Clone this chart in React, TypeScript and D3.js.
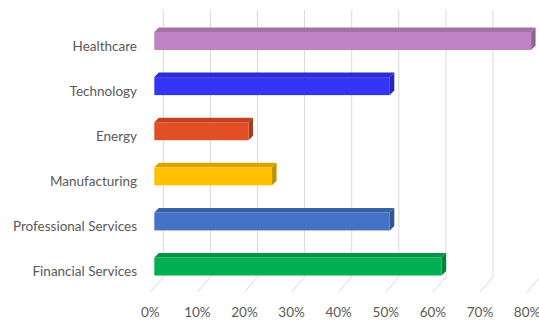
import React from "react";
import * as d3 from "d3";

const categories = [
  "Healthcare",
  "Technology",
  "Energy",
  "Manufacturing",
  "Professional Services",
  "Financial Services",
];
const values = [80, 50, 20, 25, 50, 61];
const frontColors = ["#BF84C4", "#3434F4", "#E24E26", "#FFC000", "#4472C4", "#00B050"];
const ticks = [0, 10, 20, 30, 40, 50, 60, 70, 80];

const W = 539;
const H = 322;

export default function App() {
  const xBack = d3.scaleLinear().domain([0, 80]).range([163.3, 540.1]);
  const y = d3.scalePoint<string>().domain(categories).range([41, 266.5]);
  const floorDx = -13;
  const floorDy = 15;
  const gridTop = 10;
  const gridBottom = 277;
  const barOffset = -9; // front face relative to back plane
  const depthX = 4.5;
  const depthY = -4.5;
  const barH = 18;
  const font = "Lato, 'Open Sans', sans-serif";

  return (
    <svg width={W} height={H} style={{ position: "absolute", left: 0, top: 0, background: "#fff" }}>
      {ticks.map((t) => {
        const gx = xBack(t);
        return (
          <g key={t}>
            <path
              d={`M${gx},${gridTop}L${gx},${gridBottom}L${gx + floorDx},${gridBottom + floorDy}`}
              fill="none"
              stroke="#D9D9D9"
              strokeWidth={1}
            />
            <text
              x={gx + floorDx}
              y={317}
              textAnchor="middle"
              fontFamily={font}
              fontSize={13.5}
              fill="#595959"
            >
              {t}%
            </text>
          </g>
        );
      })}
      {categories.map((c, i) => {
        const cy = y(c)!;
        const x0 = xBack(0) + barOffset;
        const x1 = xBack(values[i]) + barOffset;
        const top = cy - barH / 2;
        const bot = cy + barH / 2;
        const base = d3.color(frontColors[i])!;
        const topCol = base.darker(0.45).formatHex();
        const sideCol = base.darker(0.8).formatHex();
        return (
          <g key={c}>
            <path
              d={`M${x0},${top}L${x0 + depthX},${top + depthY}L${x1 + depthX},${top + depthY}L${x1},${top}Z`}
              fill={topCol}
            />
            <path
              d={`M${x1},${top}L${x1 + depthX},${top + depthY}L${x1 + depthX},${bot + depthY}L${x1},${bot}Z`}
              fill={sideCol}
            />
            <rect x={x0} y={top} width={x1 - x0} height={barH} fill={frontColors[i]} />
            <text
              x={137}
              y={cy + 9.5}
              textAnchor="end"
              fontFamily={font}
              fontSize={13.5}
              fill="#595959"
            >
              {c}
            </text>
          </g>
        );
      })}
    </svg>
  );
}
